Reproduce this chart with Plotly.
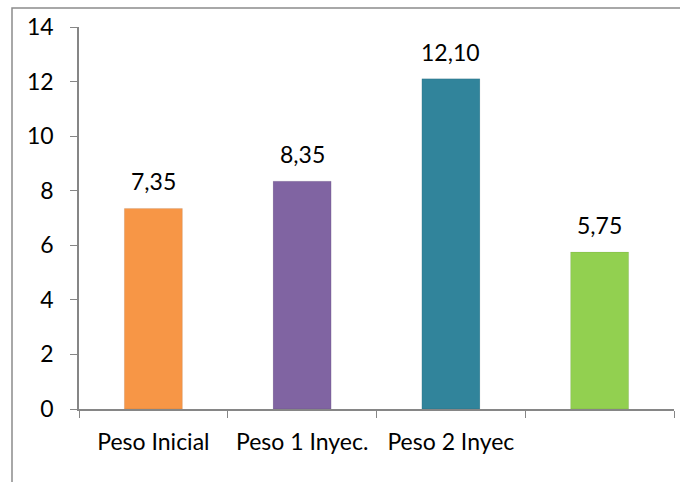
import plotly.graph_objects as go

categories = ["Peso Inicial", "Peso 1 Inyec.", "Peso 2 Inyec", " "]
values = [7.35, 8.35, 12.10, 5.75]
colors = ["#F79646", "#8064A2", "#31849B", "#92D050"]
y_ticks = [0, 2, 4, 6, 8, 10, 12, 14]

W, H = 680, 482
ml, mr, mt, mb = 79, 6, 27, 73
pw = W - ml - mr
ph = H - mt - mb

font = dict(family="Lato", size=23, color="#000")

fig = go.Figure(go.Bar(
    x=categories, y=values,
    marker=dict(color=colors, line=dict(width=1, color="rgba(0,0,0,0.08)")),
    width=0.39,
))

annotations = [
    dict(x=c, y=v, xref="x", yref="y", text=f"{v:.2f}".replace(".", ","),
         showarrow=False, yanchor="bottom", yshift=11, font=font)
    for c, v in zip(categories, values)
]

fig.update_layout(
    width=W, height=H,
    margin=dict(l=ml, r=mr, t=mt, b=mb),
    paper_bgcolor="white", plot_bgcolor="white",
    separators=",.",
    showlegend=False,
    font=font,
    annotations=annotations,
    xaxis=dict(
        type="category", showline=True, linecolor="#868686", linewidth=1.5,
        ticks="outside", tickson="boundaries", ticklen=7, tickcolor="#868686",
        tickfont=font, showgrid=False, zeroline=False, ticklabelstandoff=12,
    ),
    yaxis=dict(
        range=[0, 14], tickvals=y_ticks, showline=True, linecolor="#868686",
        linewidth=1.5, ticks="outside", ticklen=7, tickcolor="#868686",
        tickfont=font, showgrid=False, zeroline=False, ticklabelstandoff=12,
    ),
    shapes=[dict(
        type="rect", xref="paper", yref="paper",
        x0=(12 - ml) / pw, x1=1.2, y0=-0.5, y1=1 + (mt - 8) / ph,
        line=dict(color="#8c8c8c", width=1.5), layer="below",
    )],
)

fig.write_html("out.html")
